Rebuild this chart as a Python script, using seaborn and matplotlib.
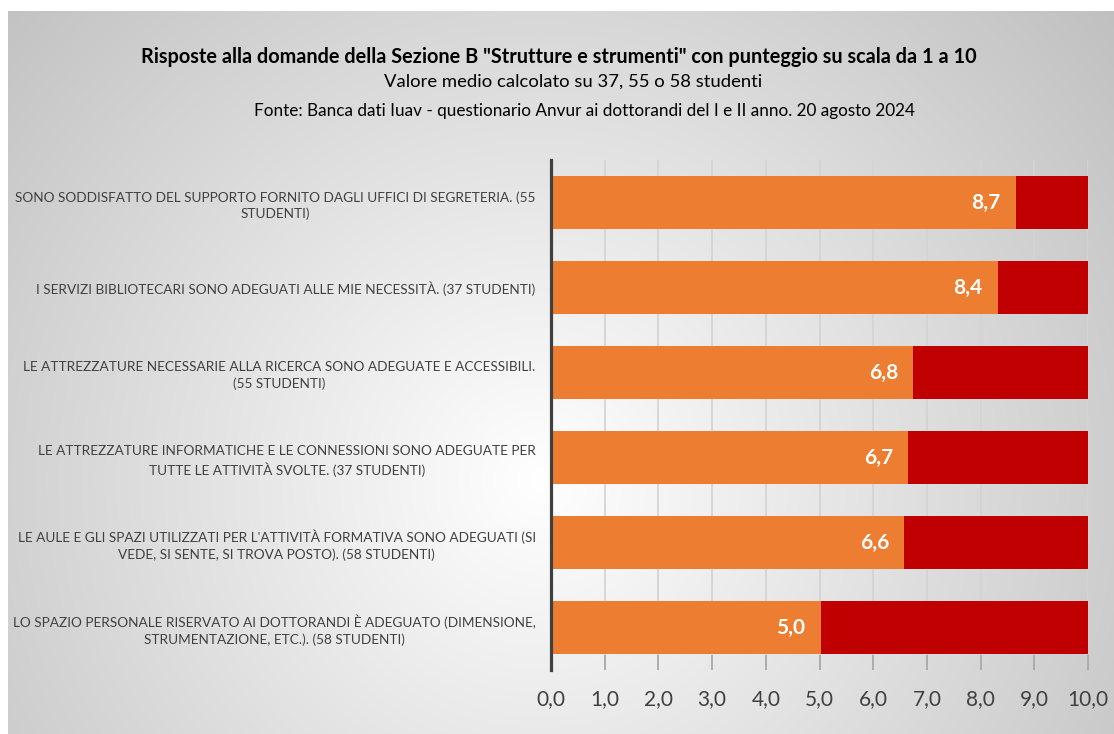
import numpy as np
import pandas as pd
import matplotlib
matplotlib.use("Agg")
import matplotlib.pyplot as plt
import seaborn as sns

# ---------------- data ----------------
domande = [
    "SONO SODDISFATTO DEL SUPPORTO FORNITO DAGLI UFFICI DI SEGRETERIA. (55\nSTUDENTI)",
    "I SERVIZI BIBLIOTECARI SONO ADEGUATI ALLE MIE NECESSITÀ. (37 STUDENTI)",
    "LE ATTREZZATURE NECESSARIE ALLA RICERCA SONO ADEGUATE E ACCESSIBILI.\n(55 STUDENTI)",
    "LE ATTREZZATURE INFORMATICHE E LE CONNESSIONI SONO ADEGUATE PER\nTUTTE LE ATTIVITÀ SVOLTE. (37 STUDENTI)",
    "LE AULE E GLI SPAZI UTILIZZATI PER L'ATTIVITÀ FORMATIVA SONO ADEGUATI (SI\nVEDE, SI SENTE, SI TROVA POSTO). (58 STUDENTI)",
    "LO SPAZIO PERSONALE RISERVATO AI DOTTORANDI È ADEGUATO (DIMENSIONE,\nSTRUMENTAZIONE, ETC.). (58 STUDENTI)",
]
punteggio = [8.65, 8.32, 6.75, 6.65, 6.58, 5.02]
etichette = ["8,7", "8,4", "6,8", "6,7", "6,6", "5,0"]
scala_max = 10
xticks = [0, 1, 2, 3, 4, 5, 6, 7, 8, 9, 10]

df = pd.DataFrame({"domanda": domande, "punteggio": punteggio})
df["totale"] = scala_max

sns.set_theme(style="white")
plt.rcParams["font.family"] = ["Lato", "DejaVu Sans"]

W, H = 1114, 734
fig = plt.figure(figsize=(W / 100, H / 100), dpi=100)
fig.patch.set_facecolor("white")

# radial grey background of the chart area
bg = fig.add_axes([8 / W, 0, 1 - 8 / W, 1 - 11 / H])
yy, xx = np.mgrid[11:H, 8:W]
d = np.sqrt((xx - 540.0) ** 2 + (yy - 480.0) ** 2)
v = np.clip(1 - 0.24 * d / 720, 0, 1)
bg.imshow(np.dstack([v, v, v]), aspect="auto", interpolation="bilinear")
bg.set_axis_off()

ax = fig.add_axes([551 / W, 1 - 670 / H, (1088 - 551) / W, (670 - 160) / H])
ax.set_facecolor("none")

sns.barplot(data=df, y="domanda", x="totale", color="#C00000", width=0.625,
            saturation=1, orient="h", ax=ax, zorder=2)
sns.barplot(data=df, y="domanda", x="punteggio", color="#ED7D31", width=0.625,
            saturation=1, orient="h", ax=ax, zorder=3)
for p in ax.patches:
    p.set_linewidth(0)

for i, (val, lab) in enumerate(zip(punteggio, etichette)):
    ax.text(val - 0.28, i, lab, ha="right", va="center", color="white",
            fontsize=15, fontweight="bold", zorder=4)

ax.set_xlim(0, scala_max)
ax.set_ylim(5.5, -0.5)
ax.set_xticks(xticks)
ax.set_xticklabels([f"{t:.1f}".replace(".", ",") for t in xticks],
                   fontsize=15, color="#404040")
ax.set_yticks(range(len(domande)))
ax.set_yticklabels(domande, fontsize=9.8, color="#404040", ma="center",
                   linespacing=1.4)
ax.set_xlabel("")
ax.set_ylabel("")

ax.grid(axis="x", color="#d4d4d4", linewidth=1.3, zorder=0)
ax.set_axisbelow(True)
ax.tick_params(axis="x", direction="in", length=11, width=1.2,
               color="#a6a6a6", pad=14, bottom=True)
ax.tick_params(axis="y", length=0, pad=11)
for s in ["top", "right", "bottom"]:
    ax.spines[s].set_visible(False)
ax.spines["left"].set_color("#404040")
ax.spines["left"].set_linewidth(2.3)
ax.spines["left"].set_zorder(5)

fig.text(559 / W, 1 - 57 / H,
         "Risposte alla domande della Sezione B \"Strutture e strumenti\" con punteggio su scala da 1 a 10",
         ha="center", va="center", fontsize=14.3, fontweight="bold", color="black")
fig.text(573 / W, 1 - 82 / H, "Valore medio calcolato su 37, 55 o 58 studenti",
         ha="center", va="center", fontsize=13.3, color="black")
fig.text(584 / W, 1 - 111 / H,
         "Fonte: Banca dati Iuav - questionario Anvur ai dottorandi del I e II anno. 20 agosto 2024",
         ha="center", va="center", fontsize=12.3, color="black")

fig.savefig("out.png", dpi=100)
